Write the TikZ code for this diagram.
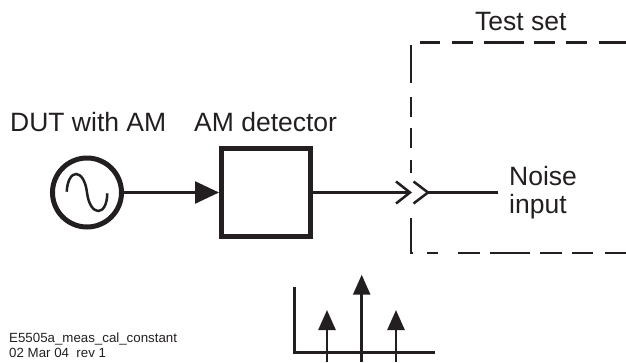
\documentclass[tikz,border=0pt]{standalone}
\usepackage{fontspec}
\setmainfont{Liberation Sans}
\usetikzlibrary{arrows.meta}
\definecolor{LineClr}{RGB}{35,31,32}

\tikzset{
  label26/.style={anchor=base west,inner sep=0pt,text=LineClr,font=\fontsize{26.5}{26.5}\selectfont},
  label13/.style={anchor=base west,inner sep=0pt,text=LineClr,font=\fontsize{13.3}{13.3}\selectfont},
  wire/.style={line width=2.5pt,color=LineClr},
  bigtip/.style={-{Triangle[length=24pt,width=22pt]}},
  spiketip/.style={-{Triangle[length=20pt,width=17pt]}}
}

\begin{document}
\begin{tikzpicture}[x=1pt,y=-1pt]
\useasboundingbox (0,0) rectangle (626,362);

\node[label26] (DutLbl) at (10,131.7) {DUT with AM};
\node[label26] (DetLbl) at (194,131.7) {AM detector};
\node[label26] (SetLbl) at (475,30) {Test set};
\node[label26] (NoiseLbl) at (509,185) {Noise};
\node[label26] (InputLbl) at (509,213) {input};
\node[label13] (NameLbl) at (9,342.7) {E5505a\_meas\_cal\_constant};
\node[label13] (DateLbl) at (9,357.7) {02 Mar 04\ \ rev 1};

\node[draw=LineClr,line width=5pt,circle,minimum size=69pt,inner sep=0pt] (Dut) at (87,192.5) {};
\node[draw=LineClr,line width=5pt,rectangle,minimum width=89pt,minimum height=88pt,inner sep=0pt] (Det) at (266,192.5) {};

% sine inside the source
\draw[wire] (66.7,191.7) .. controls (68,168) and (84,168) .. (87,192.5)
  .. controls (90,217) and (107,217) .. (107.3,193.3);

\draw[wire,bigtip] (Dut) -- (Det);

% connector
\coordinate (PlugTip) at (410,192.5);
\coordinate (JackTip) at (428,192.5);
\coordinate (NoiseEnd) at (498,192.5);
\draw[wire] (Det) -- (PlugTip);
\draw[wire] (396,181.5) -- (PlugTip) -- (396,203.5);
\draw[wire] (413.5,181.5) -- (JackTip) -- (413.5,203.5);
\draw[wire] (JackTip) -- (NoiseEnd);

% test set outline
\foreach \a/\b in {45/83,97/117,128/148,160/173}
  \draw[wire] (411,\a) -- (411,\b);
\draw[wire] (411,218) -- (411,253) -- (413,253);
\foreach \a/\b in {420/440,452/473,484/524,534/555,566/587,599/626}
  \draw[wire] (\a,42.7) -- (\b,42.7);
\foreach \a/\b in {427/438,458/480,490/530,540/562,572/593,605/626}
  \draw[wire] (\a,253) -- (\b,253);

% spectrum
\coordinate (AxisTop) at (294.7,287);
\coordinate (AxisCorner) at (294.7,352.7);
\coordinate (AxisEnd) at (435,352.7);
\draw[line width=3pt,color=LineClr] (AxisTop) -- (AxisCorner) -- (AxisEnd);
\foreach \x/\y in {327/310,361.7/274.7,396/310}
  \draw[line width=2.6pt,color=LineClr,spiketip] (\x,362) -- (\x,\y);

\end{tikzpicture}
\end{document}
